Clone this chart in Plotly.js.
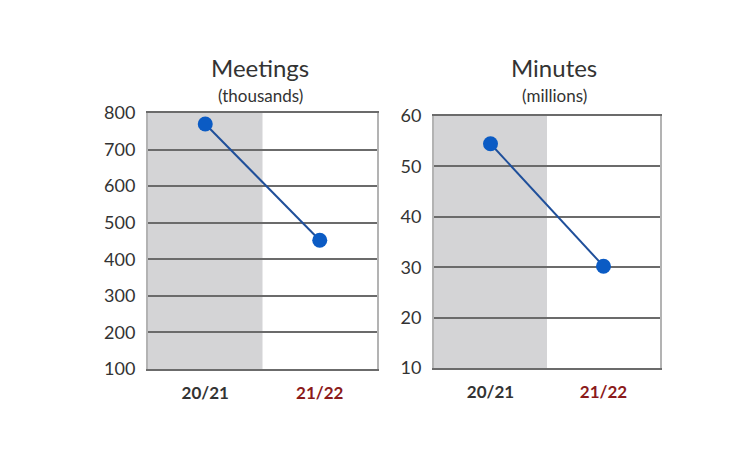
<!DOCTYPE html>
<html>
<head>
<meta charset="utf-8">
<script src="https://cdn.plot.ly/plotly-3.0.1.min.js"></script>
<style>
html,body{margin:0;padding:0;background:#fff;}
#chart{width:730px;height:452px;}
</style>
</head>
<body>
<div id="chart"></div>
<script>
// Data
const categories = ["20/21", "21/22"];
const categoryColors = ["#333333", "#8b1a1a"];
const meetings = [770, 452];      // thousands
const minutes = [54.5, 30.2];     // millions
const meetingsTicks = [100, 200, 300, 400, 500, 600, 700, 800];
const minutesTicks = [10, 20, 30, 40, 50, 60];
const titles = ["Meetings", "Minutes"];
const subtitles = ["(thousands)", "(millions)"];

const FONT = "Lato, 'Open Sans', sans-serif";
const tickText = categories.map((c, i) => `<b><span style="color:${categoryColors[i]}">${c}</span></b>`);

function trace(y, xa, ya) {
  return {
    x: categories, y: y, xaxis: xa, yaxis: ya,
    type: "scatter", mode: "lines+markers",
    line: {color: "#1f4f9a", width: 2},
    marker: {color: "#0b5bc4", size: 15},
    hoverinfo: "skip", showlegend: false
  };
}

function xaxis(domain, anchor) {
  return {
    domain: domain, anchor: anchor, type: "category",
    range: [-0.5, 1.5], tickvals: categories, ticktext: tickText,
    showgrid: false, zeroline: false,
    showline: true, mirror: true, linecolor: "#6b6b6b", linewidth: 2,
    ticks: "", ticklabelstandoff: 8,
    tickfont: {family: FONT, size: 17, color: "#333"},
    fixedrange: true
  };
}
function yaxis(domain, anchor, ticks) {
  return {
    domain: domain, anchor: anchor,
    range: [ticks[0], ticks[ticks.length - 1]], tickvals: ticks,
    showgrid: true, gridcolor: "#6b6b6b", gridwidth: 2,
    zeroline: false, showline: true, mirror: true, linecolor: "#b3b3b3", linewidth: 2,
    ticks: "", ticklabelstandoff: 7,
    tickfont: {family: FONT, size: 18, color: "#333"},
    fixedrange: true
  };
}

function titleAnn(text, xpx, ypx, size, anchor) {
  return {text: text, xref: "paper", yref: "paper", x: xpx/730, y: (452-ypx)/452, showarrow: false,
    xanchor: "center", yanchor: anchor, font: {family: FONT, size: size, color: "#333"}};
}

const layout = {
  width: 730, height: 452,
  margin: {l: 0, r: 0, t: 0, b: 0},
  paper_bgcolor: "#fff", plot_bgcolor: "rgba(0,0,0,0)",
  xaxis: xaxis([148/730, 377/730], "y"),
  yaxis: yaxis([(452-369)/452, (452-113)/452], "x", meetingsTicks),
  xaxis2: xaxis([434/730, 660/730], "y2"),
  yaxis2: yaxis([(452-368)/452, (452-116)/452], "x2", minutesTicks),
  shapes: [
    {type: "rect", xref: "x", yref: "y domain", x0: -0.5, x1: 0.5, y0: 0, y1: 1,
     fillcolor: "#d4d4d6", line: {width: 0}, layer: "below"},
    {type: "rect", xref: "x2", yref: "y2 domain", x0: -0.5, x1: 0.5, y0: 0, y1: 1,
     fillcolor: "#d4d4d6", line: {width: 0}, layer: "below"}
  ],
  annotations: [
    titleAnn(titles[0], 260, 84, 24, "bottom"),
    titleAnn(subtitles[0], 260, 83, 17, "top"),
    titleAnn(titles[1], 554, 84, 24, "bottom"),
    titleAnn(subtitles[1], 554, 83, 17, "top")
  ]
};

Plotly.newPlot("chart", [trace(meetings, "x", "y"), trace(minutes, "x2", "y2")], layout,
  {displayModeBar: false, staticPlot: true});
</script>
</body>
</html>
